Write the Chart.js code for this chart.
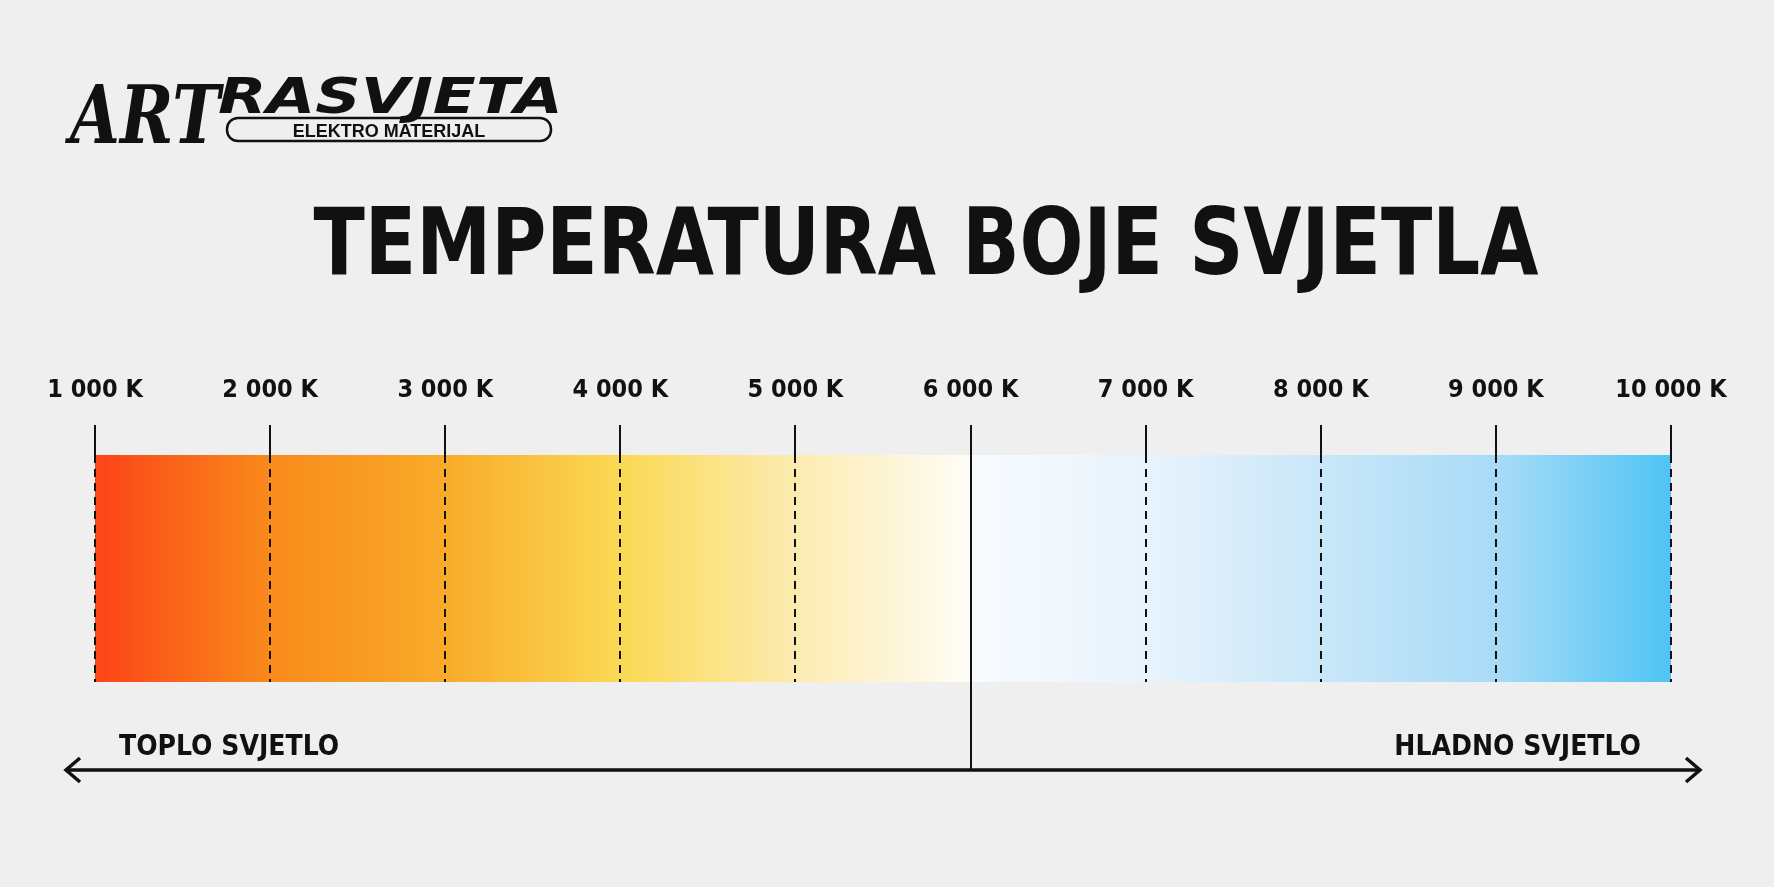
<!DOCTYPE html>
<html>
<head>
<meta charset="utf-8">
<script src="https://cdn.jsdelivr.net/npm/chart.js@4"></script>
<style>
  html, body { margin: 0; padding: 0; background: #efefef; }
  #wrap { width: 1774px; height: 887px; }
</style>
</head>
<body>
<div id="wrap"><canvas id="graf"></canvas></div>
<script>
const kelvini = [1000, 2000, 3000, 4000, 5000, 6000, 7000, 8000, 9000, 10000];
const boje = ['#fd4419', '#f98a1b', '#f9ab2a', '#fbd954', '#fcebb0', '#fffdf6',
              '#e8f3fc', '#c9e7f9', '#a8dbf7', '#4fc4f4'];
const raspon = [1000, 10000];
const naslov = 'TEMPERATURA BOJE SVJETLA';
const lijevo = 'TOPLO SVJETLO';
const desno = 'HLADNO SVJETLO';
const sredina = 6000;

const fmt = v => String(v).replace(/\B(?=(\d{3})+(?!\d))/g, ' ') + ' K';

const crtez = {
  id: 'crtez',
  beforeDatasetsDraw(chart) {
    const { ctx, chartArea: a, scales: { x } } = chart;
    const meta = chart.getDatasetMeta(0).data[0];
    const g = ctx.createLinearGradient(a.left, 0, a.right, 0);
    kelvini.forEach((k, i) => {
      let t = (x.getPixelForValue(k) - a.left) / (a.right - a.left);
      if (k === sredina) {
        g.addColorStop(t - 0.002, boje[i]);
        g.addColorStop(t + 0.002, '#f8fbfe');
      } else g.addColorStop(t, boje[i]);
    });
    meta.options.backgroundColor = g;
  },
  afterDraw(chart) {
    const { ctx, chartArea: a, scales: { x } } = chart;
    ctx.save();
    // isprekidane linije
    ctx.strokeStyle = '#111';
    ctx.lineWidth = 2;
    ctx.setLineDash([8, 6]);
    kelvini.forEach(k => {
      if (k === sredina) return;
      const px = Math.round(x.getPixelForValue(k));
      ctx.beginPath(); ctx.moveTo(px, a.top); ctx.lineTo(px, a.bottom); ctx.stroke();
    });
    ctx.setLineDash([]);
    // središnja linija
    const cx = Math.round(x.getPixelForValue(sredina));
    ctx.beginPath(); ctx.moveTo(cx, a.top - 30); ctx.lineTo(cx, 770); ctx.stroke();
    // strelica
    ctx.lineWidth = 3.5;
    ctx.beginPath(); ctx.moveTo(66, 770); ctx.lineTo(1700, 770); ctx.stroke();
    ctx.beginPath(); ctx.moveTo(80, 758); ctx.lineTo(66, 770); ctx.lineTo(80, 782); ctx.stroke();
    ctx.beginPath(); ctx.moveTo(1686, 758); ctx.lineTo(1700, 770); ctx.lineTo(1686, 782); ctx.stroke();
    // natpisi
    ctx.fillStyle = '#111';
    ctx.textBaseline = 'alphabetic';
    ctx.font = 'bold 28px "DejaVu Sans Condensed", "DejaVu Sans"';
    ctx.textAlign = 'left';
    ctx.fillText(lijevo, 119, 755, 230);
    ctx.textAlign = 'right';
    ctx.fillText(desno, 1641, 755, 260);
    // naslov
    ctx.textAlign = 'center';
    ctx.font = 'bold 92px "DejaVu Sans Condensed", "DejaVu Sans"';
    ctx.fillText(naslov, 926, 274, 1225);
    // logo
    ctx.textAlign = 'left';
    ctx.font = 'italic bold 80px "DejaVu Serif Condensed", "DejaVu Serif"';
    ctx.fillText('ART', 70, 143, 150);
    ctx.save();
    ctx.translate(218, 113);
    ctx.scale(1.26, 1);
    ctx.font = 'italic bold 50px "DejaVu Sans"';
    ctx.fillText('RASVJETA', 0, 0);
    ctx.restore();
    ctx.lineWidth = 2.5;
    ctx.beginPath(); ctx.roundRect(227, 118, 324, 23, 11); ctx.stroke();
    ctx.font = 'bold 18px "Liberation Sans", Arial';
    ctx.textAlign = 'center';
    ctx.fillText('ELEKTRO MATERIJAL', 389, 137, 260);
    ctx.restore();
  }
};

new Chart(document.getElementById('graf'), {
  type: 'bar',
  data: {
    labels: [''],
    datasets: [{
      data: [raspon],
      backgroundColor: '#fff',
      borderWidth: 0,
      barPercentage: 1,
      categoryPercentage: 1
    }]
  },
  options: {
    indexAxis: 'y',
    responsive: true,
    maintainAspectRatio: false,
    animation: false,
    layout: { padding: { top: 360, bottom: 205, left: 95, right: 103 } },
    plugins: { legend: { display: false }, tooltip: { enabled: false } },
    scales: {
      x: {
        type: 'linear',
        position: 'top',
        min: raspon[0],
        max: raspon[1],
        afterBuildTicks: s => { s.ticks = kelvini.map(v => ({ value: v })); },
        afterFit: s => { s.height = 95; },
        border: { display: false },
        grid: { drawOnChartArea: false, tickLength: 30, color: '#111', lineWidth: 2 },
        ticks: {
          padding: 20,
          maxRotation: 0,
          color: '#111',
          font: { family: '"DejaVu Sans Condensed", "DejaVu Sans"', weight: 'bold', size: 25 },
          callback: v => fmt(v)
        }
      },
      y: { display: false }
    }
  },
  plugins: [crtez]
});
</script>
</body>
</html>
